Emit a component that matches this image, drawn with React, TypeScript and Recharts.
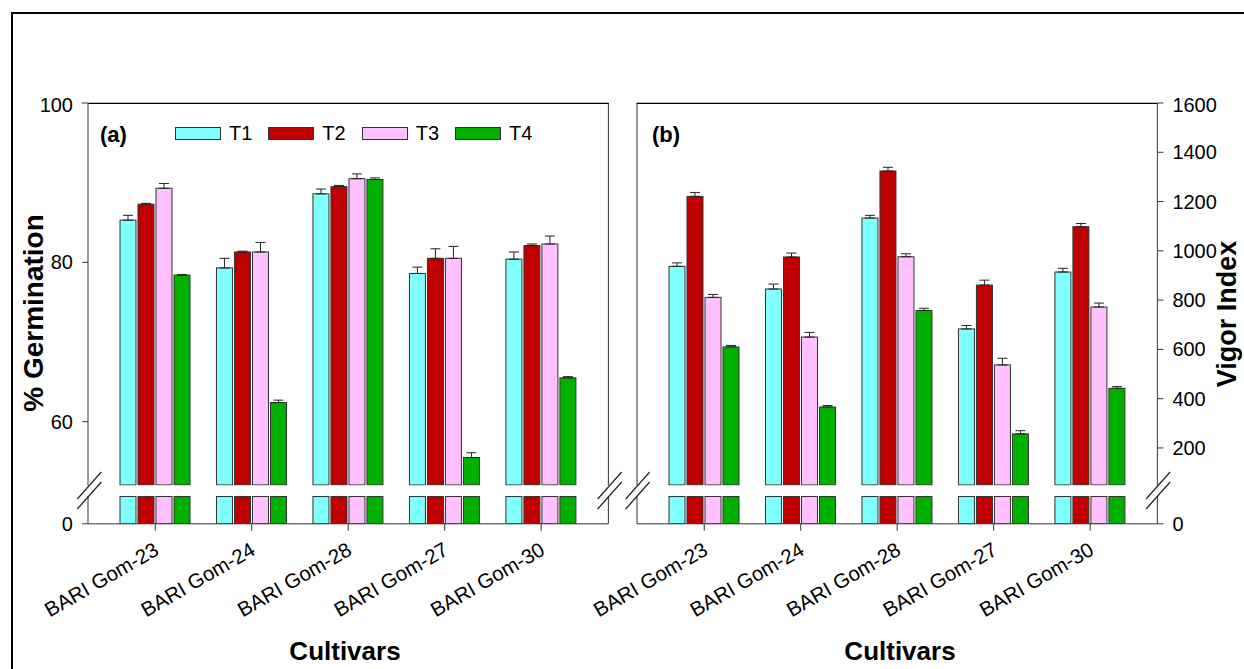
import { Bar, BarChart, ErrorBar, Legend, XAxis, YAxis } from "recharts";

const cultivars = ["BARI Gom-23", "BARI Gom-24", "BARI Gom-28", "BARI Gom-27", "BARI Gom-30"];
const treatments = ["T1", "T2", "T3", "T4"];
const colors = ["#80ffff", "#c00000", "#ffc0ff", "#00b000"];

// % germination (a)
const germT1 = [85.3, 79.3, 88.6, 78.6, 80.4];
const germT2 = [87.3, 81.3, 89.5, 80.5, 82.1];
const germT3 = [89.3, 81.3, 90.5, 80.5, 82.3];
const germT4 = [78.4, 62.4, 90.4, 55.5, 65.5];
const germT1Se = [0.6, 1.2, 0.6, 0.8, 0.9];
const germT2Se = [0.1, 0.1, 0.15, 1.2, 0.2];
const germT3Se = [0.6, 1.2, 0.6, 1.5, 1.0];
const germT4Se = [0.05, 0.3, 0.2, 0.6, 0.15];

// vigor index (b)
const vigorT1 = [937, 845, 1133, 683, 914];
const vigorT2 = [1221, 975, 1324, 861, 1098];
const vigorT3 = [811, 650, 976, 537, 772];
const vigorT4 = [610, 366, 758, 257, 442];
const vigorT1Se = [14, 20, 11, 14, 15];
const vigorT2Se = [16, 16, 15, 20, 13];
const vigorT3Se = [12, 19, 12, 27, 16];
const vigorT4Se = [6, 6, 9, 13, 7];

const germTicks = [60, 80, 100];
const vigorTicks = [200, 400, 600, 800, 1000, 1200, 1400, 1600];

const FONT = "'Liberation Sans', Arial, sans-serif";

// layout (px)
const AXIS_W = 60;
const EXTRA = 60;
const PLOT_W = 520.4;
const PAD = 19;
const UP_TOP = 103.3;
const UP_H = 382.4;
const LO_TOP = 495.7;
const LO_H = 27.8;
const M = 10;

function buildRows(vals: number[][], errs: number[][]) {
  return cultivars.map((name, i) => {
    const row: any = { name };
    treatments.forEach((t, k) => {
      row[t] = vals[k][i];
      row[t + "e"] = [0, errs[k][i]];
    });
    return row;
  });
}

const germRows = buildRows([germT1, germT2, germT3, germT4], [germT1Se, germT2Se, germT3Se, germT4Se]);
const vigorRows = buildRows([vigorT1, vigorT2, vigorT3, vigorT4], [vigorT1Se, vigorT2Se, vigorT3Se, vigorT4Se]);

// bar cut to the plot band (broken axis)
const clampShape = (top: number, bottom: number) => (p: any) => {
  const y0 = Math.max(p.y, top);
  const y1 = Math.min(p.y + p.height, bottom);
  return (
    <rect x={p.x} y={y0} width={p.width} height={Math.max(y1 - y0, 0)} fill={p.fill} stroke="#333" strokeWidth={1} />
  );
};

const CatTick = (props: any) => {
  const { x, y, payload } = props;
  const ax = x + 5;
  const ay = y + 21;
  return (
    <text x={ax} y={ay} transform={`rotate(-30, ${ax}, ${ay})`} textAnchor="end" fontSize={20.5} fontFamily={FONT} fill="#000">
      {payload.value}
    </text>
  );
};

const renderLegend = (props: any) => (
  <div style={{ display: "flex", alignItems: "center", fontFamily: FONT }}>
    {(props.payload || []).map((e: any) => (
      <div key={e.value} style={{ display: "flex", alignItems: "center", marginRight: 16 }}>
        <span style={{ display: "inline-block", width: 46, height: 13, boxSizing: "border-box", border: "1px solid #333", background: colors[treatments.indexOf(e.value)] }} />
        <span style={{ marginLeft: 8, fontSize: 20, lineHeight: "23px", color: "#000" }}>{e.value}</span>
      </div>
    ))}
  </div>
);

const tickStyle = { fontSize: 20, fill: "#000", fontFamily: FONT };
const axisStroke = "#333";

function Panel({ rows, left, upDomain, upTicks, loDomain, labelsLeft, legend }: any) {
  const W = PLOT_W + 2 * AXIS_W + EXTRA;
  const chartLeft = left - AXIS_W - EXTRA;
  // a mirrored axis takes no room, so its width goes into the margin
  const mLeft = labelsLeft ? EXTRA : EXTRA + AXIS_W;
  return (
    <>
      <div style={{ position: "absolute", left: chartLeft, top: UP_TOP - M }}>
        <BarChart width={W} height={UP_H + M} data={rows} margin={{ top: M, right: 0, bottom: 0, left: mLeft }} barSize={16} barGap={2}>
          <XAxis dataKey="name" hide padding={{ left: PAD, right: PAD }} />
          <YAxis yAxisId="L" width={AXIS_W} domain={upDomain} ticks={upTicks} allowDataOverflow mirror={!labelsLeft}
            tick={labelsLeft ? tickStyle : false} tickSize={6} tickMargin={9} stroke={axisStroke} />
          <YAxis yAxisId="R" orientation="right" width={AXIS_W} domain={upDomain} ticks={upTicks} allowDataOverflow
            tick={labelsLeft ? false : tickStyle} tickLine={!labelsLeft} tickSize={6} tickMargin={9} stroke={axisStroke} />
          {legend && (
            <Legend layout="horizontal" verticalAlign="middle" align="center" content={renderLegend}
              wrapperStyle={{ position: "absolute", left: 175 - chartLeft, top: 134 - 11.5 - (UP_TOP - M), width: 420, height: 23 }} />
          )}
          {treatments.map((t, k) => (
            <Bar key={t} yAxisId="L" dataKey={t} name={t} fill={colors[k]} stroke="#333" isAnimationActive={false}
              shape={clampShape(M + 0.5, M + UP_H - 0.5)}>
              <ErrorBar dataKey={t + "e"} width={5} strokeWidth={1} stroke="#222" direction="y" />
            </Bar>
          ))}
        </BarChart>
      </div>
      <div style={{ position: "absolute", left: chartLeft, top: LO_TOP - M }}>
        <BarChart width={W} height={LO_H + M + 130} data={rows} margin={{ top: M, right: 0, bottom: 0, left: mLeft }} barSize={16} barGap={2}>
          <XAxis dataKey="name" height={130} padding={{ left: PAD, right: PAD }} interval={0} tickSize={7} tick={<CatTick />} stroke={axisStroke} />
          <YAxis yAxisId="L" width={AXIS_W} domain={loDomain} ticks={[0]} allowDataOverflow mirror={!labelsLeft}
            tick={labelsLeft ? tickStyle : false} tickLine={labelsLeft} tickSize={6} tickMargin={9} stroke={axisStroke} />
          <YAxis yAxisId="R" orientation="right" width={AXIS_W} domain={loDomain} ticks={[0]} allowDataOverflow
            tick={labelsLeft ? false : tickStyle} tickLine={!labelsLeft} tickSize={6} tickMargin={9} stroke={axisStroke} />
          {treatments.map((t, k) => (
            <Bar key={t} yAxisId="L" dataKey={t} name={t} fill={colors[k]} stroke="#333" isAnimationActive={false}
              shape={clampShape(M + 0.5, M + LO_H)} />
          ))}
        </BarChart>
      </div>
    </>
  );
}

const PANEL_A = 88.3;
const PANEL_B = 636.7;

function BreakMarks({ x }: { x: number }) {
  return (
    <g stroke="#222" strokeWidth={1.2}>
      <line x1={x - 11} y1={499} x2={x + 13} y2={472} />
      <line x1={x - 11} y1={509} x2={x + 13} y2={482} />
    </g>
  );
}

export default function App() {
  return (
    <div style={{ position: "absolute", left: 0, top: 0, width: 1244, height: 669, background: "#fff", overflow: "hidden", fontFamily: FONT }}>
      <div style={{ position: "absolute", left: 11, top: 12, width: 1300, height: 700, border: "2px solid #000" }} />
      <Panel rows={germRows} left={PANEL_A} upDomain={[52, 100]} upTicks={germTicks} loDomain={[0, 5]} labelsLeft legend />
      <Panel rows={vigorRows} left={PANEL_B} upDomain={[48, 1600]} upTicks={vigorTicks} loDomain={[0, 40]} labelsLeft={false} legend={false} />
      <svg width={1244} height={669} style={{ position: "absolute", left: 0, top: 0, pointerEvents: "none" }}>
        <line x1={PANEL_A} y1={UP_TOP} x2={PANEL_A + PLOT_W} y2={UP_TOP} stroke="#000" strokeWidth={1.2} />
        <line x1={PANEL_B} y1={UP_TOP} x2={PANEL_B + PLOT_W} y2={UP_TOP} stroke="#000" strokeWidth={1.2} />
        <BreakMarks x={PANEL_A} />
        <BreakMarks x={PANEL_A + PLOT_W} />
        <BreakMarks x={PANEL_B} />
        <BreakMarks x={PANEL_B + PLOT_W} />
        <text x={100} y={142} fontSize={22} fontWeight="bold" fontFamily={FONT}>(a)</text>
        <text x={652} y={142} fontSize={22} fontWeight="bold" fontFamily={FONT}>(b)</text>
        <text x={43} y={313} transform="rotate(-90, 43, 313)" textAnchor="middle" fontSize={28} fontWeight="bold" fontFamily={FONT}>% Germination</text>
        <text x={1236} y={314} transform="rotate(-90, 1236, 314)" textAnchor="middle" fontSize={27} fontWeight="bold" fontFamily={FONT}>Vigor Index</text>
        <text x={345} y={660} textAnchor="middle" fontSize={26} fontWeight="bold" fontFamily={FONT}>Cultivars</text>
        <text x={900} y={660} textAnchor="middle" fontSize={26} fontWeight="bold" fontFamily={FONT}>Cultivars</text>
      </svg>
    </div>
  );
}
